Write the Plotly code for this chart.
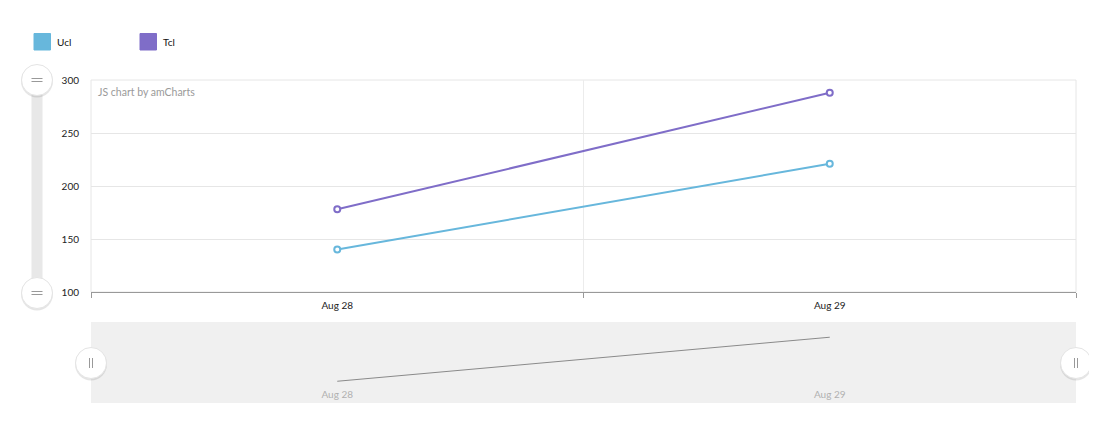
import plotly.graph_objects as go

categories = ["Aug 28", "Aug 29"]
ucl_values = [140, 221]
tcl_values = [178, 288]
series_names = ["Ucl", "Tcl"]
series_colors = ["#67b7dc", "#7f6dc8"]
y_ticks = [100, 150, 200, 250, 300]

OFF = 8  # page body margin
FW, FH = 1097 - 2 * OFF, 432 - 2 * OFF
SL, SR, ST, SB = 91, 1076, 80, 403  # screen coords of plot block
L, T = SL - OFF, ST - OFF
R, B = FW - (SR - OFF), FH - (SB - OFF)
PW, PH = SR - SL, SB - ST
FONT = "Lato"


def px(xs):
    return (xs - SL) / PW


def py(ys):
    return (SB - ys) / PH


fig = go.Figure()

for name, vals, col in zip(series_names, [ucl_values, tcl_values], series_colors):
    fig.add_trace(go.Scatter(
        x=categories, y=vals, name=name, mode="lines+markers",
        line=dict(color=col, width=2),
        marker=dict(symbol="circle", size=6, color="white",
                    line=dict(color=col, width=2)),
        showlegend=False, xaxis="x", yaxis="y"))

# scrollbar preview series
fig.add_trace(go.Scatter(
    x=categories, y=ucl_values, mode="lines", line=dict(color="#8a8a8a", width=1),
    showlegend=False, hoverinfo="skip", xaxis="x2", yaxis="y2"))

main_bottom = py(292)
sb_top = py(322)

fig.update_layout(
    width=FW, height=FH,
    margin=dict(l=L, r=R, t=T, b=B, pad=0),
    paper_bgcolor="white", plot_bgcolor="rgba(0,0,0,0)",
    font=dict(family=FONT, size=10, color="#222"),
    showlegend=False,
    xaxis=dict(type="category", categoryorder="array", categoryarray=categories,
               range=[-0.5, 1.5], domain=[0, 1], anchor="y",
               tickson="boundaries", ticks="outside", ticklen=5, tickcolor="#999",
               showgrid=True, gridcolor="#ececec", gridwidth=1,
               showline=True, linecolor="#999", linewidth=1,
               zeroline=False, fixedrange=True, ticklabelstandoff=4,
               tickfont=dict(family=FONT, size=10, color="#222")),
    yaxis=dict(range=[100, 300], domain=[main_bottom, 1], anchor="x",
               tickvals=y_ticks, showgrid=True, gridcolor="#e6e6e6", gridwidth=1,
               zeroline=False, showline=False, ticks="",
               ticklabelstandoff=11, fixedrange=True,
               tickfont=dict(family=FONT, size=10, color="#222")),
    xaxis2=dict(type="category", categoryorder="array", categoryarray=categories,
                range=[-0.5, 1.5], domain=[0, 1], anchor="y2",
                showgrid=False, zeroline=False, showline=False, ticks="",
                ticklabelposition="inside", fixedrange=True,
                tickfont=dict(family=FONT, size=10, color="#b0b0b0")),
    yaxis2=dict(range=[100, 249], domain=[0, sb_top], anchor="x2",
                showgrid=False, zeroline=False, showline=False,
                showticklabels=False, fixedrange=True),
)

shapes = []
# plot border (edge grid lines)
shapes.append(dict(type="rect", xref="x domain", yref="y domain", x0=0, x1=1, y0=0, y1=1,
                   fillcolor="rgba(0,0,0,0)", line=dict(color="#e6e6e6", width=1), layer="below"))
# horizontal scrollbar background
shapes.append(dict(type="rect", xref="x2 domain", yref="y2 domain", x0=0, x1=1, y0=0, y1=1,
                   fillcolor="#f0f0f0", line=dict(width=0), layer="below"))
# vertical scrollbar track
shapes.append(dict(type="rect", xref="paper", yref="paper", x0=px(31.5), x1=px(42.5),
                   y0=py(293), y1=py(80), fillcolor="#e8e8e8", line=dict(width=0), layer="below"))


def handle(cx, cy, vertical_bars):
    r = 15.5
    out = []
    out.append(dict(type="circle", xref="paper", yref="paper",
                    x0=px(cx - r - 0.5), x1=px(cx + r + 0.5), y0=py(cy + r + 2), y1=py(cy - r + 0.5),
                    fillcolor="rgba(0,0,0,0.10)", line=dict(width=0), layer="above"))
    out.append(dict(type="circle", xref="paper", yref="paper",
                    x0=px(cx - r), x1=px(cx + r), y0=py(cy + r), y1=py(cy - r),
                    fillcolor="white", line=dict(color="#e4e4e4", width=1), layer="above"))
    if vertical_bars:
        for dx in (-1.5, 1.5):
            out.append(dict(type="line", xref="paper", yref="paper",
                            x0=px(cx + dx), x1=px(cx + dx), y0=py(cy - 5), y1=py(cy + 5),
                            line=dict(color="#999", width=1), layer="above"))
    else:
        for dy in (-1.5, 1.5):
            out.append(dict(type="line", xref="paper", yref="paper",
                            x0=px(cx - 5.5), x1=px(cx + 5.5), y0=py(cy + dy), y1=py(cy + dy),
                            line=dict(color="#999", width=1), layer="above"))
    return out


shapes += handle(37, 80, False)
shapes += handle(37, 293, False)
shapes += handle(91, 363, True)
shapes += handle(1076, 363, True)

# legend (custom, amCharts style)
legend_x = [34, 140]
for name, col, lx in zip(series_names, series_colors, legend_x):
    shapes.append(dict(type="rect", xref="paper", yref="paper",
                       x0=px(lx), x1=px(lx + 16.5), y0=py(50), y1=py(33.5),
                       fillcolor=col, line=dict(color=col, width=1), layer="above"))
    fig.add_annotation(text=name, xref="paper", yref="paper",
                       x=px(lx + 21), y=py(42), xanchor="left", yanchor="middle",
                       showarrow=False, font=dict(family=FONT, size=10, color="#111"))

fig.update_layout(shapes=shapes)

fig.add_annotation(text="JS chart by amCharts", xref="paper", yref="paper",
                   x=px(95.5), y=py(92), xanchor="left", yanchor="middle", showarrow=False,
                   font=dict(family=FONT, size=10.5, color="#9a9a9a"))

fig.write_html("out.html")
